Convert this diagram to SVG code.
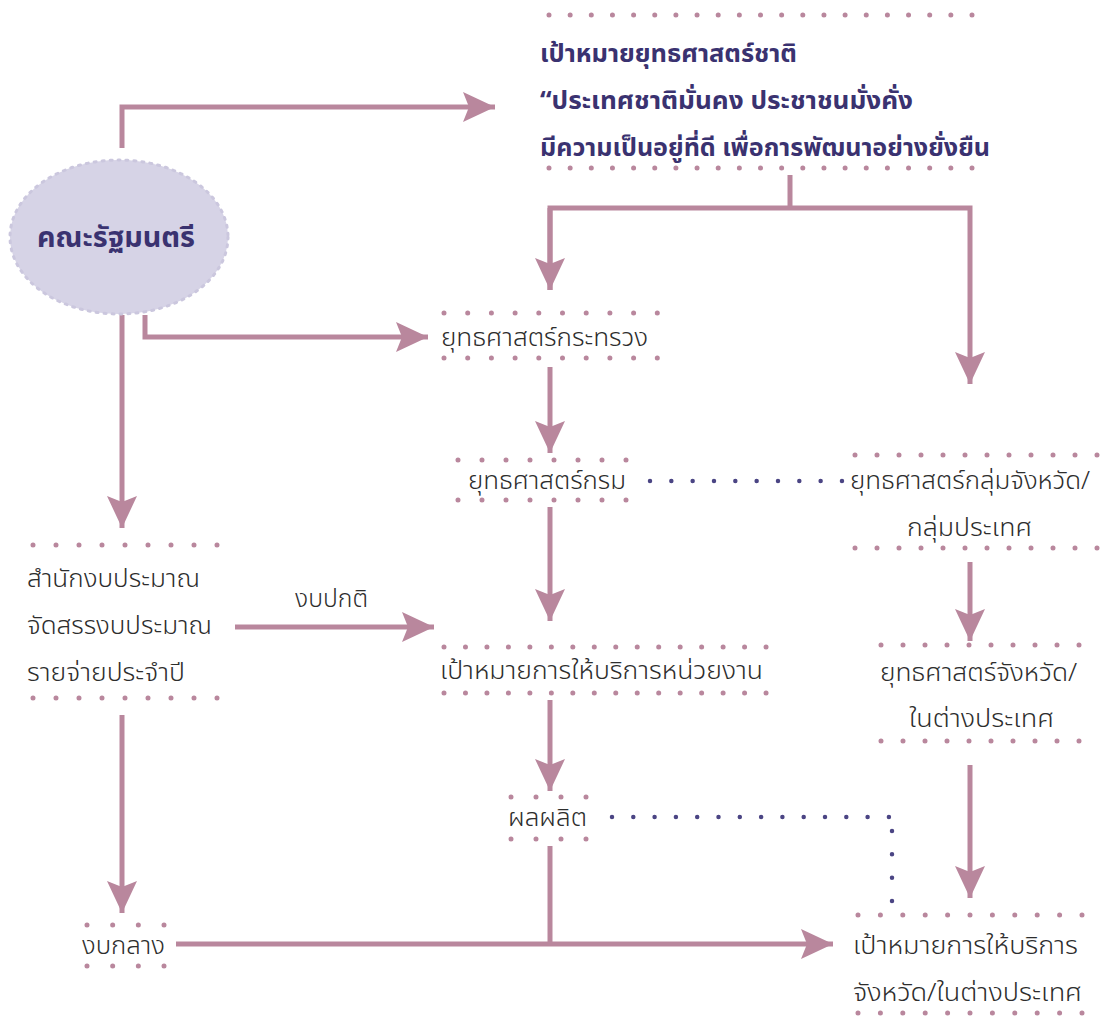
<svg xmlns="http://www.w3.org/2000/svg" width="1107" height="1020" viewBox="0 0 1107 1020">
<defs>
<marker id="ah" markerUnits="userSpaceOnUse" markerWidth="34" markerHeight="30" refX="32" refY="15" orient="auto">
<path d="M0,0 L32,15 L0,30 L6,15 Z" fill="#b9879d"/>
</marker>
<style>
.c{fill:none;stroke:#b9879d;stroke-width:5}
.d{fill:none;stroke:#b9879d;stroke-width:5;stroke-linecap:round}
.n{fill:none;stroke:#4b4584;stroke-width:4.5;stroke-linecap:round}
.t{font-family:"Noto Sans","Noto Sans Thai","DejaVu Sans",sans-serif;font-size:25px;fill:#2d2d2d;font-weight:300}
.b{font-family:"Noto Sans","Noto Sans Thai","DejaVu Sans",sans-serif;font-size:25px;fill:#3a3270;font-weight:700}
</style>
</defs>
<rect width="1107" height="1020" fill="#fff"/>
<g id="connectors">
<path class="c" d="M122,148 V107 H495" marker-end="url(#ah)"/>
<path class="c" d="M145,315 V337 H428" marker-end="url(#ah)"/>
<path class="c" d="M122,315 V528" marker-end="url(#ah)"/>
<path class="c" d="M122,715 V913" marker-end="url(#ah)"/>
<path class="c" d="M235,627 H434" marker-end="url(#ah)"/>
<path class="c" d="M790,175 V208"/>
<path class="c" d="M550,290 V208 H970 V384" marker-end="url(#ah)"/>
<path class="c" d="M550,208 V290" marker-end="url(#ah)"/>
<path class="c" d="M550,367 V453" marker-end="url(#ah)"/>
<path class="c" d="M550,507 V621" marker-end="url(#ah)"/>
<path class="c" d="M970,562 V641" marker-end="url(#ah)"/>
<path class="c" d="M550,700 V791" marker-end="url(#ah)"/>
<path class="c" d="M550,846 V944"/>
<path class="c" d="M176,944 H833" marker-end="url(#ah)"/>
<path class="c" d="M970,765 V898" marker-end="url(#ah)"/>
<path class="n" d="M650,481 H843" stroke-dasharray="0 21.33"/>
<path class="n" d="M612,817 H890" stroke-dasharray="0 21.3"/>
<path class="n" d="M892,831 V902" stroke-dasharray="0 23.33"/>
<text class="t" x="295" y="607" textLength="73" lengthAdjust="spacingAndGlyphs">งบปกติ</text>
</g>
<g id="n-goal">
<path class="d" d="M549,15 H973 M549,168 H973" stroke-dasharray="0 21.15"/>
<text class="b" x="540" y="62" textLength="257" lengthAdjust="spacingAndGlyphs">เป้าหมายยุทธศาสตร์ชาติ</text>
<text class="b" x="540" y="109" textLength="373" lengthAdjust="spacingAndGlyphs">“ประเทศชาติมั่นคง ประชาชนมั่งคั่ง</text>
<text class="b" x="540" y="156" textLength="450" lengthAdjust="spacingAndGlyphs">มีความเป็นอยู่ที่ดี เพื่อการพัฒนาอย่างยั่งยืน</text>
</g>
<g id="n-cabinet">
<ellipse cx="119" cy="237" rx="109" ry="77" fill="#d6d3e6" stroke="#cbc7de" stroke-width="3" stroke-dasharray="2 6" stroke-linecap="round"/>
<text class="b" x="37" y="247" textLength="158" lengthAdjust="spacingAndGlyphs" style="font-size:28px">คณะรัฐมนตรี</text>
</g>
<g id="n-ministry">
<path class="d" d="M444,313 H658.5 M444,358 H658.5" stroke-dasharray="0 23.7"/>
<text class="t" x="441" y="346" textLength="207" lengthAdjust="spacingAndGlyphs">ยุทธศาสตร์กระทรวง</text>
</g>
<g id="n-dept">
<path class="d" d="M458,460 H627 M458,500 H627" stroke-dasharray="0 24"/>
<text class="t" x="468" y="489" textLength="158" lengthAdjust="spacingAndGlyphs">ยุทธศาสตร์กรม</text>
</g>
<g id="n-provgroup">
<path class="d" d="M855,455 H1098 M855,548 H1098" stroke-dasharray="0 22"/>
<text class="t" x="850" y="489" textLength="240" lengthAdjust="spacingAndGlyphs">ยุทธศาสตร์กลุ่มจังหวัด/</text>
<text class="t" x="907" y="536" textLength="125" lengthAdjust="spacingAndGlyphs">กลุ่มประเทศ</text>
</g>
<g id="n-budget">
<path class="d" d="M33,545 H218 M33,698 H218" stroke-dasharray="0 23"/>
<text class="t" x="27" y="587" textLength="173" lengthAdjust="spacingAndGlyphs">สำนักงบประมาณ</text>
<text class="t" x="27" y="634" textLength="185" lengthAdjust="spacingAndGlyphs">จัดสรรงบประมาณ</text>
<text class="t" x="27" y="681" textLength="158" lengthAdjust="spacingAndGlyphs">รายจ่ายประจำปี</text>
</g>
<g id="n-unit-target">
<path class="d" d="M444,647 H767 M444,693 H767" stroke-dasharray="0 21.47"/>
<text class="t" x="440" y="679" textLength="323" lengthAdjust="spacingAndGlyphs">เป้าหมายการให้บริการหน่วยงาน</text>
</g>
<g id="n-province">
<path class="d" d="M881,645 H1080 M881,741 H1080" stroke-dasharray="0 22"/>
<text class="t" x="880" y="681" textLength="197" lengthAdjust="spacingAndGlyphs">ยุทธศาสตร์จังหวัด/</text>
<text class="t" x="909" y="727" textLength="145" lengthAdjust="spacingAndGlyphs">ในต่างประเทศ</text>
</g>
<g id="n-output">
<path class="d" d="M511,797 H587 M511,839 H587" stroke-dasharray="0 25"/>
<text class="t" x="508" y="826" textLength="79" lengthAdjust="spacingAndGlyphs">ผลผลิต</text>
</g>
<g id="n-central">
<path class="d" d="M87,925 H165 M87,966 H165" stroke-dasharray="0 25.67"/>
<text class="t" x="82" y="954" textLength="83" lengthAdjust="spacingAndGlyphs">งบกลาง</text>
</g>
<g id="n-prov-target">
<path class="d" d="M858,915 H1083 M858,1013 H1083" stroke-dasharray="0 22.4"/>
<text class="t" x="853" y="954" textLength="225" lengthAdjust="spacingAndGlyphs">เป้าหมายการให้บริการ</text>
<text class="t" x="853" y="1001" textLength="229" lengthAdjust="spacingAndGlyphs">จังหวัด/ในต่างประเทศ</text>
</g>
</svg>
